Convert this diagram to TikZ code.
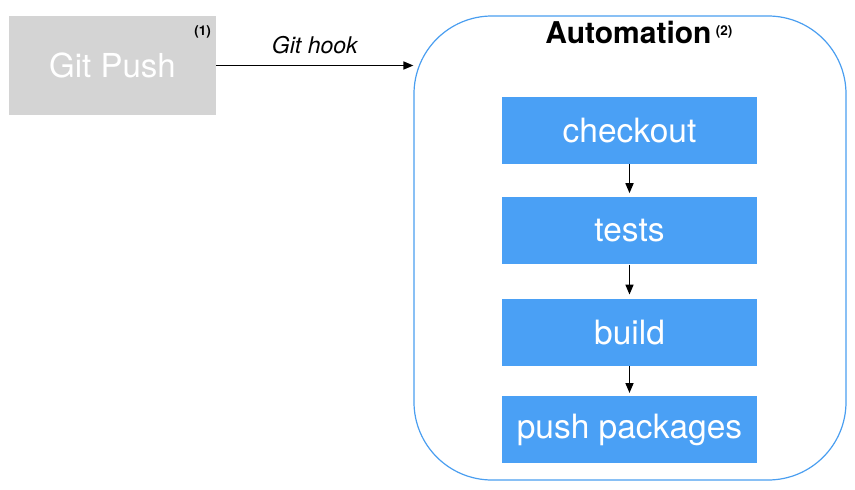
\documentclass[tikz,border=0pt]{standalone}
\usepackage{fontspec}
\setmainfont{TeX Gyre Heros}
\usetikzlibrary{positioning,arrows.meta}
\definecolor{stepblue}{HTML}{4AA0F5}
\definecolor{frameblue}{HTML}{4A9EF0}
\definecolor{pushgray}{HTML}{D4D4D4}

\begin{document}
\begin{tikzpicture}[
    x=1pt, y=-1pt,
    node distance=33pt,
    every node/.style={align=center, inner sep=0pt},
    stepbox/.style={fill=stepblue, text=white, minimum width=255pt, minimum height=67pt, font=\fontsize{33.5}{38}\selectfont},
    pushbox/.style={fill=pushgray, text=white, minimum width=207pt, minimum height=99pt, font=\fontsize{33}{38}\selectfont},
    framebox/.style={draw=frameblue, line width=1.2pt, rounded corners=78pt, minimum width=432pt, minimum height=464pt},
    tagnote/.style={font=\fontsize{13.5}{16}\selectfont\bfseries},
    arrow/.style={-{Triangle[length=10pt, width=8pt]}, line width=1.6pt}
]
\useasboundingbox (0,0) rectangle (855,490);

% Left: trigger
\node[pushbox] (push) at (112.5, 65.5) {Git Push};
\node[tagnote, anchor=base east] (tag1) at (211, 35) {(1)};

% Right: automation frame
\node[framebox] (auto) at (630, 248) {};
\node[font=\fontsize{30}{34}\selectfont\bfseries, anchor=base] (title) at (628.5, 43) {Automation};
\node[tagnote, anchor=base west] (tag2) at ([xshift=4pt, yshift=8pt]title.base east) {(2)};

% Steps
\node[stepbox] (checkout) at (629.5, 130.5) {checkout};
\node[stepbox, below=of checkout] (tests) {tests};
\node[stepbox, below=34pt of tests] (build) {build};
\node[stepbox, below=30pt of build] (packages) {push packages};

% Arrows
\draw[arrow] (push.east) -- node[above=11pt, font=\fontsize{23}{26}\selectfont\itshape]{Git hook} (push.east -| auto.west);
\draw[arrow, shorten >=4pt] (checkout) -- (tests);
\draw[arrow, shorten >=4pt] (tests) -- (build);
\draw[arrow, shorten >=3pt] (build) -- (packages);

\end{tikzpicture}
\end{document}
